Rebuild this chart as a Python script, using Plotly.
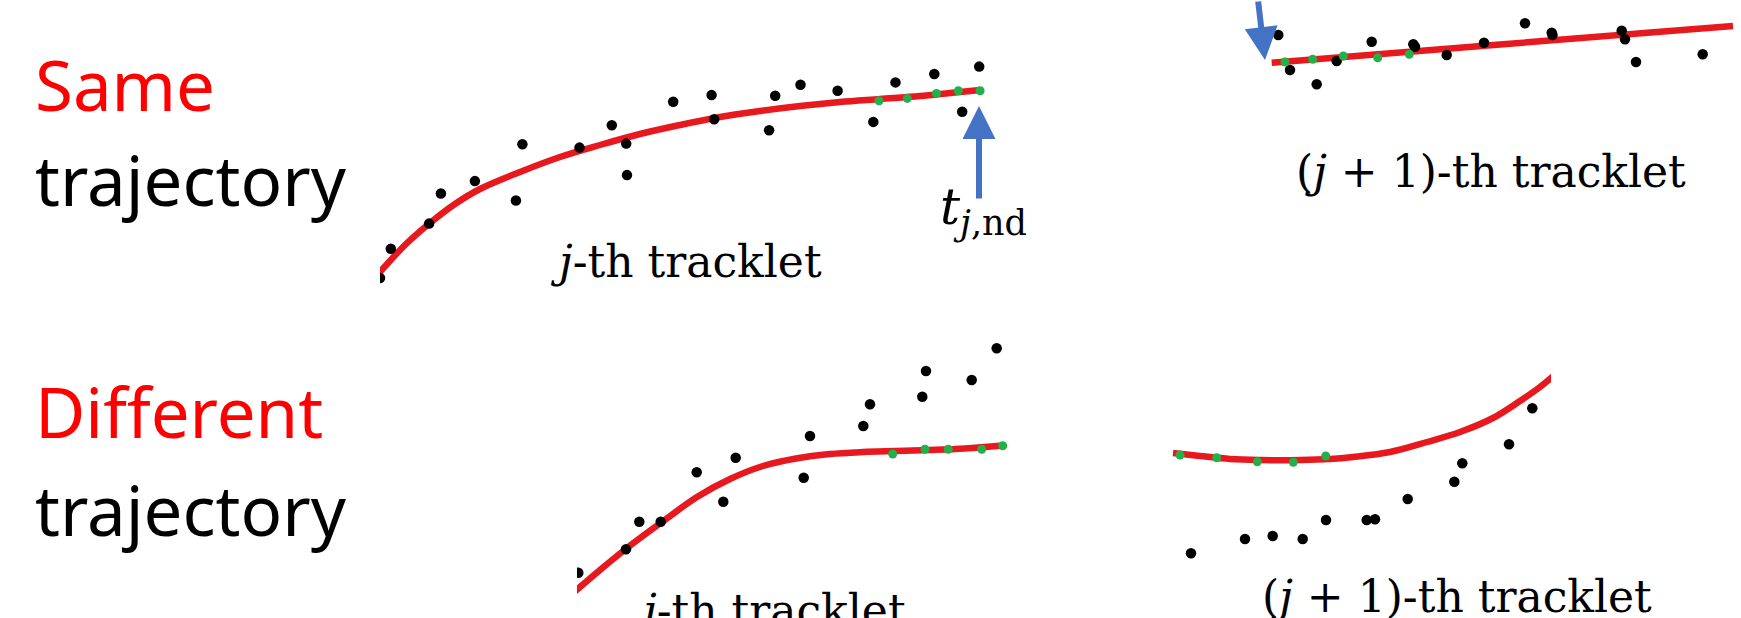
import plotly.graph_objects as go

W, H = 1741, 618

# ---------------- data (pixel-space coordinates) ----------------
# Top-left panel: j-th tracklet (same trajectory)
tl_black_x = [380, 390.8, 429.1, 440.9, 474.9, 515.9, 522.4, 579.5, 611.8, 626.2, 627.0, 673.2,
              711.6, 714.2, 769.1, 775.2, 800.5, 837.6, 873.3, 895.5, 934.3, 962.2, 979.2]
tl_black_y = [278, 248.7, 223.6, 193.5, 181.1, 200.5, 144.3, 147.6, 125.2, 143.6, 175.1, 101.8,
              95.1, 119.2, 130.2, 95.8, 84.7, 90.7, 121.9, 82.4, 74.0, 111.8, 66.6]
tl_green_x = [879.0, 907.3, 936.5, 958.3, 980.1]
tl_green_y = [100.8, 98.4, 93.4, 90.7, 90.7]
tl_curve_x = [374, 380, 405, 430, 455, 480, 520, 560, 600, 640, 680, 720, 760, 800, 840, 880, 920, 950, 980]
tl_curve_y = [279, 272, 245, 223, 204, 189, 172, 157, 145, 134, 125, 117, 111, 106, 102, 99, 96, 93, 90]

# Top-right panel: (j+1)-th tracklet (same trajectory)
tr_black_x = [1278.3, 1290.0, 1316.7, 1336.7, 1371.7, 1413.3, 1415.0, 1446.7, 1484.0, 1525.0,
              1551.7, 1552.5, 1621.7, 1625.0, 1636.0, 1702.7]
tr_black_y = [35.0, 70.0, 84.3, 61.0, 41.7, 44.3, 46.7, 55.0, 42.7, 23.3,
              32.7, 35.0, 30.7, 39.3, 62.0, 54.3]
tr_green_x = [1285.0, 1312.7, 1343.3, 1377.7, 1409.3]
tr_green_y = [62.0, 59.3, 56.0, 57.7, 54.3]
tr_curve_x = [1271.7, 1500, 1733]
tr_curve_y = [62.7, 44.5, 26]

# Bottom-left panel: j-th tracklet (different trajectory)
bl_black_x = [578.3, 626.0, 639.3, 660.7, 696.7, 723.3, 735.7, 803.7, 810.0, 863.3, 870.0,
              922.3, 926.0, 971.7, 996.7]
bl_black_y = [572.7, 549.3, 521.7, 521.7, 472.3, 501.7, 457.7, 477.7, 436.0, 426.0, 404.3,
              396.7, 371.0, 380.0, 348.3]
bl_green_x = [892.7, 925.0, 948.3, 981.7, 1002.7]
bl_green_y = [454.0, 449.3, 449.3, 449.3, 445.7]
bl_curve_x = [572, 600, 627, 662, 697, 730, 763, 796, 830, 863, 896, 930, 965, 1003]
bl_curve_y = [594, 570, 548, 522, 497, 479, 466, 458.5, 454, 452, 451, 450, 448.5, 445.5]

# Bottom-right panel: (j+1)-th tracklet (different trajectory)
br_black_x = [1191.0, 1245.0, 1272.7, 1302.7, 1326.0, 1366.7, 1375.0, 1407.7, 1454.3, 1462.3,
              1509.0, 1532.3]
br_black_y = [553.3, 539.0, 536.0, 539.0, 520.0, 520.0, 519.3, 499.0, 481.7, 463.3,
              444.3, 408.3]
br_green_x = [1180.0, 1216.7, 1257.3, 1293.3, 1325.7]
br_green_y = [455.0, 457.7, 461.7, 462.3, 456.0]
br_curve_x = [1173, 1200, 1230, 1260, 1300, 1330, 1353, 1390, 1427, 1460, 1493, 1520, 1540, 1558]
br_curve_y = [453, 456, 459, 460, 460, 459, 457, 452, 442, 432, 418, 401, 387, 372]

# Arrows (tail, tip)
arrow_tl = dict(tail=(979, 200), tip=(979, 106))
arrow_tr = dict(tail=(1258, -4), tip=(1265, 60))

RED = "#E8191E"
GREEN = "#22B04B"
BLUE = "#4472C4"

# panel crop boxes in pixels: x0, x1, y0, y1
panels = {
    "tl": (380, 1010, 0, 300),
    "tr": (1240, 1741, 0, 130),
    "bl": (577, 1015, 330, 618),
    "br": (1160, 1551, 330, 618),
}

data = {
    "tl": (tl_curve_x, tl_curve_y, tl_black_x, tl_black_y, tl_green_x, tl_green_y),
    "tr": (tr_curve_x, tr_curve_y, tr_black_x, tr_black_y, tr_green_x, tr_green_y),
    "bl": (bl_curve_x, bl_curve_y, bl_black_x, bl_black_y, bl_green_x, bl_green_y),
    "br": (br_curve_x, br_curve_y, br_black_x, br_black_y, br_green_x, br_green_y),
}

fig = go.Figure()
layout_axes = {}
for i, key in enumerate(["tl", "tr", "bl", "br"], start=1):
    x0, x1, y0, y1 = panels[key]
    sfx = "" if i == 1 else str(i)
    cx, cy, bx, by, gx, gy = data[key]
    fig.add_trace(go.Scatter(x=cx, y=cy, mode="lines",
                             line=dict(color=RED, width=6.5, shape="spline", smoothing=1.0),
                             xaxis="x" + sfx, yaxis="y" + sfx, hoverinfo="skip"))
    fig.add_trace(go.Scatter(x=bx, y=by, mode="markers",
                             marker=dict(color="black", size=10.5, line=dict(width=0)),
                             xaxis="x" + sfx, yaxis="y" + sfx, hoverinfo="skip"))
    fig.add_trace(go.Scatter(x=gx, y=gy, mode="markers",
                             marker=dict(color=GREEN, size=9, line=dict(width=0)),
                             xaxis="x" + sfx, yaxis="y" + sfx, hoverinfo="skip"))
    layout_axes["xaxis" + sfx] = dict(domain=[x0 / W, x1 / W], range=[x0, x1], visible=False,
                                      anchor="y" + sfx, fixedrange=True)
    layout_axes["yaxis" + sfx] = dict(domain=[1 - y1 / H, 1 - y0 / H], range=[y1, y0], visible=False,
                                      anchor="x" + sfx, fixedrange=True)


def px(x):
    return x / W


def py(y):
    return 1 - y / H


annotations = []


def label(text, x, y, size, color="black", family="Noto Sans", xanchor="left"):
    annotations.append(dict(text=text, x=px(x), y=py(y), xref="paper", yref="paper",
                            xanchor=xanchor, yanchor="middle", showarrow=False,
                            font=dict(family=family, size=size, color=color)))


SANS = "Noto Sans"
SERIF = "DejaVu Serif"
label("Same", 33, 84, 69, "#FF0000", SANS)
label("trajectory", 33, 179, 69, "black", SANS)
label("Different", 33, 411, 69, "#FF0000", SANS)
label("trajectory", 33, 509, 69, "black", SANS)

label("<i>j</i>-th tracklet", 686, 261, 44, "black", SERIF, "center")
label("(<i>j</i> + 1)-th tracklet", 1491, 171, 44, "black", SERIF, "center")
label("<i>j</i>-th tracklet", 770, 610, 44, "black", SERIF, "center")
label("(<i>j</i> + 1)-th tracklet", 1457, 596, 44, "black", SERIF, "center")
label("<i>t</i><sub><i>j</i>,nd</sub>", 938, 210, 50, "black", SERIF, "left")

for arr in (arrow_tl, arrow_tr):
    (tx, ty), (hx, hy) = arr["tail"], arr["tip"]
    annotations.append(dict(text="", x=px(hx), y=py(hy), xref="paper", yref="paper",
                            ax=tx - hx, ay=ty - hy, axref="pixel", ayref="pixel",
                            showarrow=True, arrowhead=2, arrowsize=1.1, arrowwidth=6,
                            arrowcolor=BLUE, standoff=0))

fig.update_layout(
    width=W, height=H,
    margin=dict(l=0, r=0, t=0, b=0),
    paper_bgcolor="white",
    plot_bgcolor="rgba(0,0,0,0)",
    showlegend=False,
    annotations=annotations,
    **layout_axes,
)

fig.write_html("out.html", config={"displayModeBar": False},
               post_script="document.body.style.margin='0px';document.body.style.overflow='hidden';")
